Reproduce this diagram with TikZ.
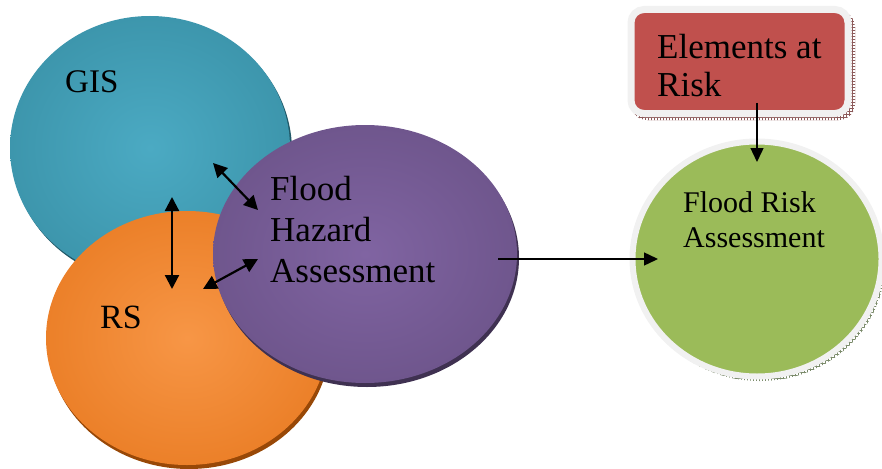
\documentclass[tikz,border=0pt]{standalone}
\usepackage{fontspec}
\setmainfont{Liberation Serif}
\usetikzlibrary{arrows.meta,shapes.geometric,patterns,shadows}

\definecolor{tealin}{HTML}{4BAAC3}
\definecolor{tealout}{HTML}{2F8296}
\definecolor{tealshadow}{HTML}{215968}
\definecolor{orangein}{HTML}{F79646}
\definecolor{orangeout}{HTML}{E06A0C}
\definecolor{orangeshadow}{HTML}{984807}
\definecolor{purplein}{HTML}{8064A2}
\definecolor{purpleout}{HTML}{5E4878}
\definecolor{purpleshadow}{HTML}{3F3151}
\definecolor{riskgreen}{HTML}{9BBB59}
\definecolor{riskred}{HTML}{C0504D}
\definecolor{rimgray}{HTML}{F1F1F1}
\definecolor{hatchred}{HTML}{8C5A5A}
\definecolor{hatchgreen}{HTML}{7A8A6A}

\pgfdeclareradialshading{tealball}{\pgfpoint{0bp}{0bp}}{color(0bp)=(tealin); color(50bp)=(tealout); color(100bp)=(tealout)}
\pgfdeclareradialshading{orangeball}{\pgfpoint{0bp}{0bp}}{color(0bp)=(orangein); color(50bp)=(orangeout); color(100bp)=(orangeout)}
\pgfdeclareradialshading{purpleball}{\pgfpoint{0bp}{0bp}}{color(0bp)=(purplein); color(50bp)=(purpleout); color(100bp)=(purpleout)}

\tikzset{
  ball/.style={ellipse, inner sep=0pt},
  label/.style={anchor=base west, align=left, inner sep=0pt, text=black},
  twoway/.style={line width=2.2pt, {Triangle[length=14pt,width=14pt]}-{Triangle[length=14pt,width=14pt]}},
  oneway/.style={line width=1.4pt, -{Triangle[length=14pt,width=13pt]}},
}

\begin{document}
\begin{tikzpicture}[x=1pt,y=-1pt]
\useasboundingbox (0,0) rectangle (882,468);

% the three overlapping spheres
\node[ball, shading=tealball, minimum width=280pt, minimum height=264pt,
      drop shadow={shadow xshift=2pt, shadow yshift=-3pt, fill=tealshadow, opacity=1}] (gis) at (150,148) {};
\node[ball, shading=orangeball, minimum width=282pt, minimum height=254pt,
      drop shadow={shadow xshift=2pt, shadow yshift=-4pt, fill=orangeshadow, opacity=1}] (rs) at (187,338) {};
\node[ball, shading=purpleball, minimum width=304pt, minimum height=258pt,
      drop shadow={shadow xshift=2pt, shadow yshift=-4pt, fill=purpleshadow, opacity=1}] (fha) at (365,254) {};

% hatched shadows of the result circle and the input box
\fill[pattern=grid, pattern color=hatchgreen] (760,263) ellipse (125pt and 118pt);
\fill[pattern=grid, pattern color=hatchred, rounded corners=16pt] (631,11) rectangle (855,120);

\node[ball, fill=riskgreen, draw=rimgray, line width=6pt, minimum width=249pt, minimum height=235pt] (fra) at (757,259) {};
\node[rectangle, rounded corners=13pt, fill=riskred, draw=rimgray, line width=7pt,
      minimum width=217pt, minimum height=104pt, inner sep=0pt] (ear) at (739.5,61.5) {};

% labels (anchored on the baseline of their last line)
\node[label, font=\fontsize{33}{38}\selectfont] (tgis) at (65,93) {GIS};
\node[label, font=\fontsize{34}{40}\selectfont] (trs) at (100,328) {RS};
\node[label, font=\fontsize{35}{41}\selectfont] (tfha) at (270,282) {Flood\\Hazard\\Assessment};
\node[label, font=\fontsize{35}{39}\selectfont] (tear) at (657,97) {Elements at\\Risk};
\node[label, font=\fontsize{30}{35}\selectfont] (tfra) at (683,247) {Flood Risk\\Assessment};

% connector end points
\coordinate (g1) at (213,163);
\coordinate (h1) at (258,210);
\coordinate (g2) at (172,197);
\coordinate (r2) at (172,289);
\coordinate (r3) at (203,289);
\coordinate (h3) at (258,259);
\coordinate (h4) at (498,259);
\coordinate (f4) at (658,259);
\coordinate (e5) at (757,103);
\coordinate (f5) at (757,162);

% connectors
\draw[twoway] (g1) -- (h1);
\draw[twoway] (g2) -- (r2);
\draw[twoway] (r3) -- (h3);
\draw[oneway] (h4) -- (f4);
\draw[oneway] (e5) -- (f5);
\end{tikzpicture}
\end{document}
